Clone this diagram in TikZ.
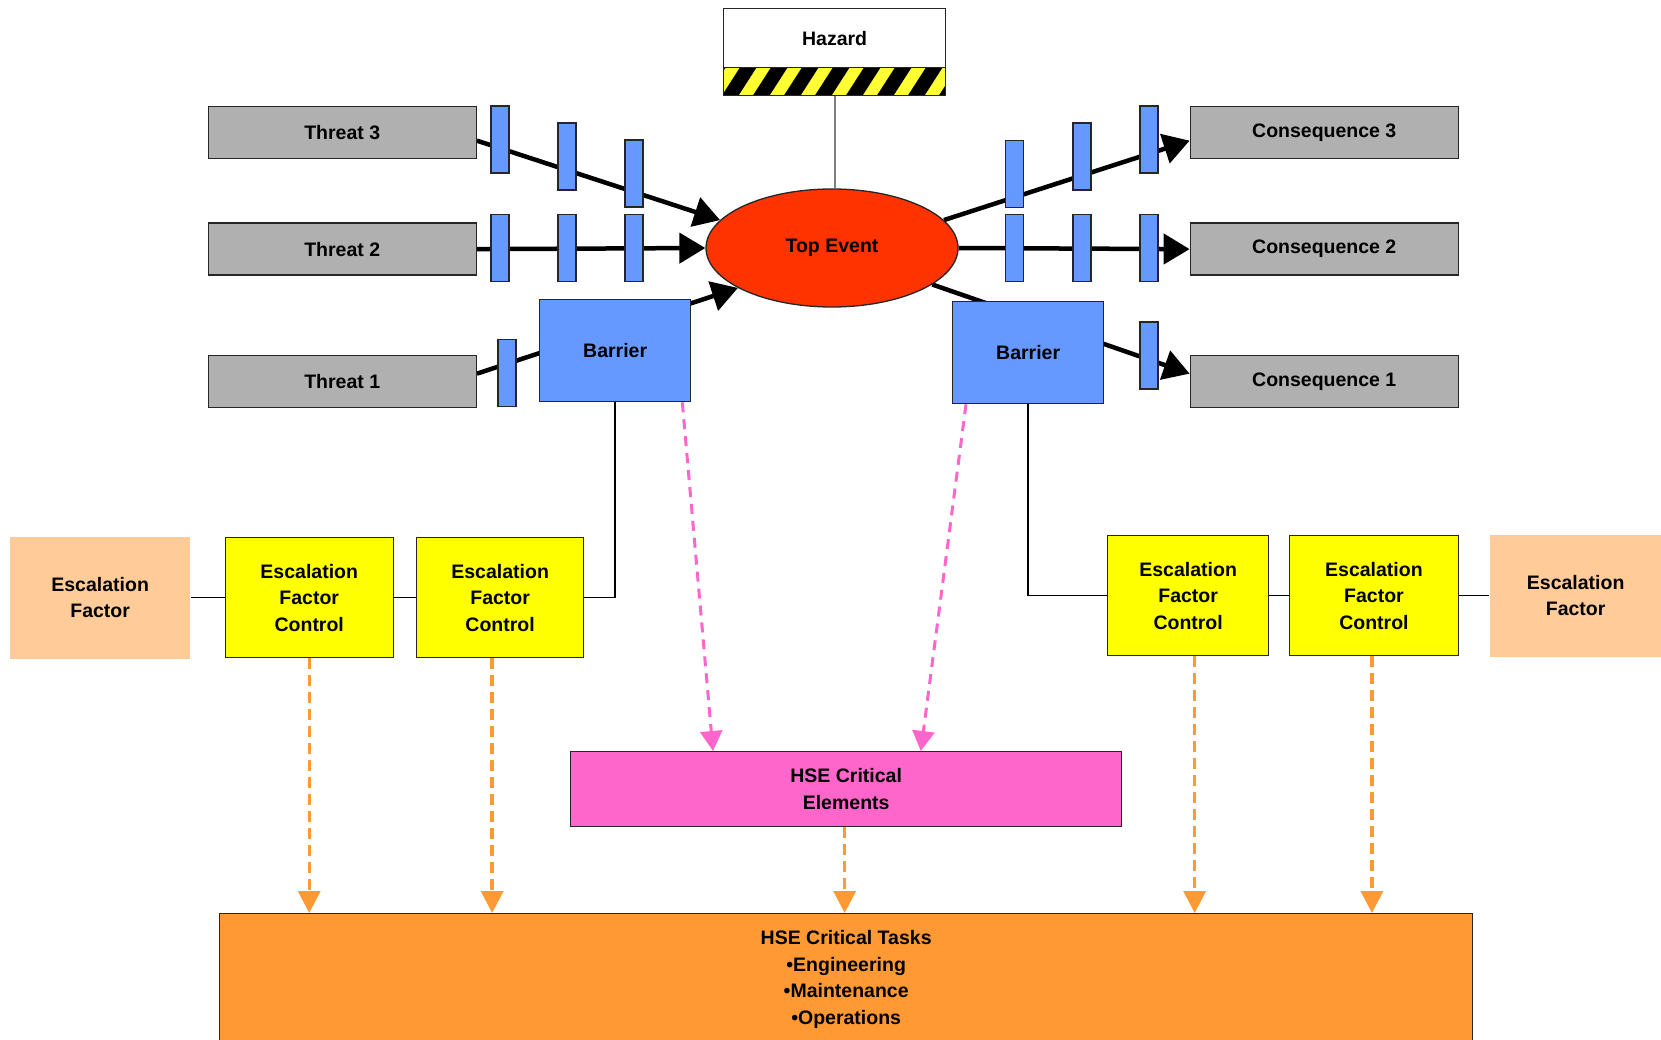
\documentclass[tikz,border=0pt]{standalone}
\usepackage{fontspec}
\setmainfont{Liberation Sans}
\usetikzlibrary{arrows.meta,shapes.geometric,calc}
\pgfdeclarelayer{bg}
\pgfsetlayers{bg,main}
\definecolor{tgray}{HTML}{B0B0B0}
\definecolor{bblue}{HTML}{6699FF}
\definecolor{tred}{HTML}{FF3300}
\definecolor{efyellow}{HTML}{FFFF00}
\definecolor{peach}{HTML}{FFCC99}
\definecolor{hpink}{HTML}{FF66CC}
\definecolor{dorange}{HTML}{FF9933}
\definecolor{hyellow}{HTML}{FFFF33}
\begin{document}
\begin{tikzpicture}[x=1pt,y=-1pt,
 font=\fontsize{19.5}{26.5}\selectfont\bfseries,
 box/.style={draw=black!85, line width=1.3pt, inner sep=0pt, align=center, anchor=north west},
 threat/.style={box, fill=tgray, minimum width=268pt, minimum height=52pt},
 bar/.style={draw=black!85, line width=1.3pt, fill=bblue, minimum width=18pt, minimum height=67pt, inner sep=0pt},
 barrier/.style={box, fill=bblue, minimum width=151pt, minimum height=102pt},
 efc/.style={box, fill=efyellow, minimum height=120pt},
 ef/.style={box, draw=none, fill=peach, minimum height=122pt},
 bigarrow/.style={line width=4.5pt, -{Triangle[length=26pt,width=30pt]}},
 thinline/.style={line width=1.5pt},
 odash/.style={draw=dorange, line width=3.5pt, dash pattern=on 11pt off 6pt, -{Triangle[length=22pt,width=22pt]}},
 pdash/.style={draw=hpink, line width=3pt, dash pattern=on 10pt off 7pt, -{Triangle[length=20pt,width=22pt]}}
]
\useasboundingbox (0,0) rectangle (1661,1040);

% Hazard
\node[box, fill=white, minimum width=222pt, minimum height=59pt] (hz) at (723,8) {Hazard};
\node[box, fill=black, minimum width=222pt, minimum height=28pt,
  path picture={\foreach \i in {-16,15,...,230}
    \fill[hyellow] ($(path picture bounding box.south west)+(\i,0)$) -- ++(14,0) -- ++(18,-28) -- ++(-14,0) -- cycle;}] (hzs) at (723,67) {};

% Top event
\node[ellipse, draw=black!85, line width=1.3pt, fill=tred, minimum width=252pt, minimum height=118pt, inner sep=0pt] (te) at (832,248) {Top Event};
\draw[gray, line width=2pt] (hzs.south) -- (hzs.south |- te.north);

% Threats and consequences
\node[threat] (t3) at (207.6,106) {Threat 3};
\node[threat] (t2) at (207.6,222.5) {Threat 2};
\node[threat] (t1) at (207.6,355) {Threat 1};
\node[threat] (c3) at (1189.6,106) {Consequence 3};
\node[threat] (c2) at (1189.6,222.5) {Consequence 2};
\node[threat] (c1) at (1189.6,355) {Consequence 1};

% Barriers
\node[barrier] (b1) at (539,299) {Barrier};
\node[barrier] (b2) at (952,301) {Barrier};

% Arrows
\begin{pgfonlayer}{bg}
\draw[bigarrow] ($(t3.east)+(0,8)$) -- (te.166);
\draw[bigarrow] (t2.east) -- (te.west);
\draw[bigarrow] ($(t1.east)+(0,-8)$) -- (te.203);
\draw[bigarrow] (te.14) -- ($(c3.west)+(0,8)$);
\draw[bigarrow] (te.east) -- (c2.west);
\draw[bigarrow] (te.340) -- ($(c1.west)+(0,-8)$);
\end{pgfonlayer}

% Bars
\node[bar] (bt31) at (500,139.5) {};
\node[bar] (bt32) at (567,156.5) {};
\node[bar] (bt33) at (634,173.5) {};
\node[bar] (bt21) at (500,248) {};
\node[bar] (bt22) at (567,248) {};
\node[bar] (bt23) at (634,248) {};
\node[bar] (bt11) at (507,373) {};
\node[bar] (bc31) at (1014.5,174) {};
\node[bar] (bc32) at (1082,156.5) {};
\node[bar] (bc33) at (1149,139.5) {};
\node[bar] (bc21) at (1014.5,248) {};
\node[bar] (bc22) at (1082,248) {};
\node[bar] (bc23) at (1149,248) {};
\node[bar] (bc11) at (1149,355.5) {};

% Escalation factors
\node[ef, minimum width=180pt] (ef1) at (9.5,536) {Escalation\\Factor};
\node[efc, minimum width=168pt] (efc1) at (224.6,537) {Escalation\\Factor\\Control};
\node[efc, minimum width=167pt] (efc2) at (416,537) {Escalation\\Factor\\Control};
\node[efc, minimum width=161pt] (efc3) at (1107,535) {Escalation\\Factor\\Control};
\node[efc, minimum width=168.6pt] (efc4) at (1289,535) {Escalation\\Factor\\Control};
\node[ef, minimum width=172pt] (ef2) at (1489,534) {Escalation\\Factor};

\draw[thinline] (b1.south) |- (efc2.east);
\draw[thinline] (b2.south) |- (efc3.west);
\draw[thinline] (ef1.east) -- (efc1.west);
\draw[thinline] (efc1.east) -- (efc2.west);
\draw[thinline] (efc3.east) -- (efc4.west);
\draw[thinline] (efc4.east) -- (ef2.west);

% HSE boxes
\node[box, fill=hpink, minimum width=551pt, minimum height=75pt] (hce) at (570,751) {HSE Critical\\Elements\hspace*{0pt}};
\node[box, fill=dorange, minimum width=1253pt, minimum height=132pt] (tasks) at (219,913) {HSE Critical Tasks\\•Engineering\\•Maintenance\\•Operations};

\draw[odash] (efc1.south) -- (efc1.south |- tasks.north);
\draw[odash] ($(efc2.south)+(-8,0)$) -- ($(efc2.south |- tasks.north)+(-8,0)$);
\draw[odash] ($(hce.south)+(-1.5,0)$) -- ($(hce.south |- tasks.north)+(-1.5,0)$);
\draw[odash] ($(efc3.south)+(6.5,0)$) -- ($(efc3.south |- tasks.north)+(6.5,0)$);
\draw[odash] ($(efc4.south)+(-2,0)$) -- ($(efc4.south |- tasks.north)+(-2,0)$);

\draw[pdash] ($(b1.south east)+(-9,0)$) -- ($(hce.north west)+(143,0)$);
\draw[pdash] ($(b2.south west)+(14,0)$) -- ($(hce.north east)+(-201.5,0)$);
\end{tikzpicture}
\end{document}
